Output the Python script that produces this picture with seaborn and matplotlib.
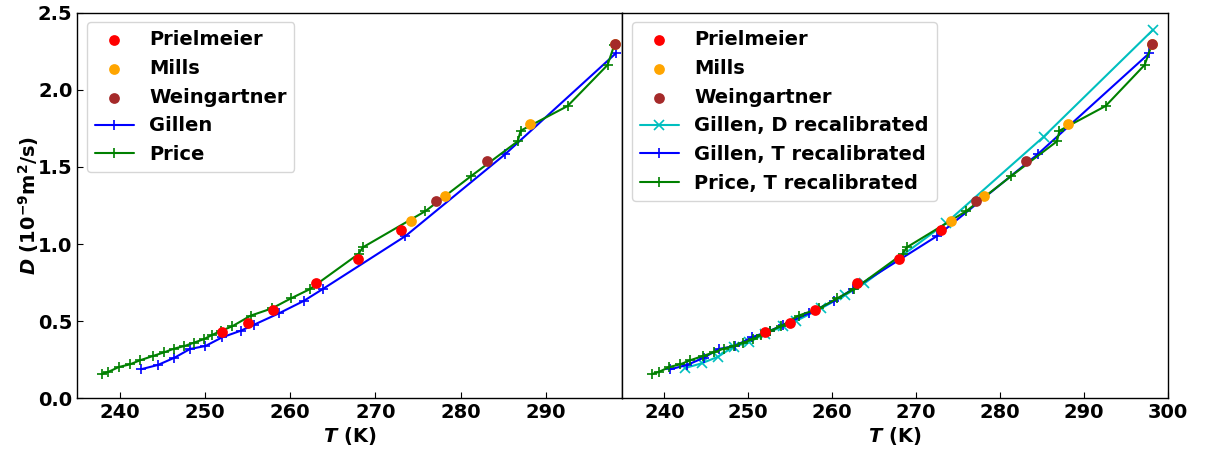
import matplotlib
matplotlib.use("Agg")
import matplotlib.pyplot as plt
import seaborn as sns

# ---------------- data ----------------
priel_T = [252.0, 255.0, 258.0, 263.0, 268.0, 273.0]
priel_D = [0.43, 0.49, 0.57, 0.745, 0.90, 1.09]

mills_T = [274.15, 278.15, 288.15, 298.15]
mills_D = [1.149, 1.313, 1.776, 2.299]

wein_T = [277.15, 283.15, 298.15]
wein_D = [1.28, 1.54, 2.30]

gillen_T = [242.47, 244.46, 246.41, 248.25, 250.05, 252.0, 254.19, 255.75,
            258.68, 261.58, 263.84, 273.53, 285.22, 298.23]
gillen_D = [0.188, 0.216, 0.263, 0.320, 0.339, 0.395, 0.438, 0.477,
            0.551, 0.631, 0.709, 1.052, 1.582, 2.237]

price_T = [237.86, 238.64, 239.89, 241.18, 242.35, 243.87, 245.2, 246.37,
           247.59, 248.72, 249.89, 250.87, 251.93, 253.2, 255.36, 257.86,
           260.09, 262.28, 268.02, 268.53, 275.88, 281.24, 286.7, 287.05,
           292.56, 297.25, 298.04]
price_D = [0.158, 0.171, 0.203, 0.220, 0.246, 0.274, 0.298, 0.322,
           0.339, 0.361, 0.384, 0.412, 0.438, 0.467, 0.536, 0.583,
           0.648, 0.707, 0.936, 0.979, 1.214, 1.441, 1.666, 1.735,
           1.895, 2.161, 2.29]

gillenD_T = gillen_T
gillenD_D = [0.196, 0.227, 0.270, 0.335, 0.362, 0.420, 0.466, 0.503,
             0.583, 0.670, 0.745, 1.134, 1.696, 2.388]

gillenT_T = [240.7, 242.7, 244.7, 246.5, 248.4, 250.4, 252.6, 254.2,
             257.2, 260.2, 262.5, 272.5, 284.5, 297.8]
gillenT_D = gillen_D

priceT_T = [238.56, 239.34, 240.59, 241.88, 243.05, 244.57, 245.9, 247.07,
            248.29, 249.42, 250.59, 251.57, 252.63, 253.9, 256.0, 258.46,
            260.6, 262.6, 268.4, 268.9, 276.0, 281.35, 286.8, 287.1,
            292.6, 297.25, 298.1]
priceT_D = price_D

xticks = [240, 250, 260, 270, 280, 290, 300]
yticks = [0.0, 0.5, 1.0, 1.5, 2.0, 2.5]

# ---------------- style ----------------
sns.set_style("ticks")
plt.rcParams["font.family"] = ["DejaVu Sans"]
plt.rcParams["font.weight"] = "bold"
plt.rcParams["axes.labelweight"] = "bold"
plt.rcParams["mathtext.default"] = "bf"
plt.rcParams["text.color"] = "black"
plt.rcParams["axes.labelcolor"] = "black"
plt.rcParams["axes.edgecolor"] = "black"
plt.rcParams["xtick.color"] = "black"
plt.rcParams["ytick.color"] = "black"
plt.rcParams["xtick.direction"] = "in"
plt.rcParams["ytick.direction"] = "in"
plt.rcParams["axes.linewidth"] = 1.0

FS_TICK = 14
FS_LEG = 14

fig, (ax1, ax2) = plt.subplots(1, 2, figsize=(12.07, 4.54), dpi=100, sharey=True)
fig.subplots_adjust(left=0.064, right=0.9674, top=0.972, bottom=0.1227, wspace=0)

S = 60


def scatter_sets(ax):
    sns.scatterplot(x=priel_T, y=priel_D, color="red", s=S, linewidth=0,
                    label="Prielmeier", ax=ax, zorder=3)
    sns.scatterplot(x=mills_T, y=mills_D, color="orange", s=S, linewidth=0,
                    label="Mills", ax=ax, zorder=3)
    sns.scatterplot(x=wein_T, y=wein_D, color="brown", s=S, linewidth=0,
                    label="Weingartner", ax=ax, zorder=3)


def line(ax, T, D, color, marker, label, ms=7):
    sns.lineplot(x=T, y=D, color=color, marker=marker, markersize=ms,
                 markeredgecolor=color, markeredgewidth=1.2, linewidth=1.5,
                 sort=False, estimator=None, label=label, ax=ax, zorder=2)


# left panel
scatter_sets(ax1)
line(ax1, gillen_T, gillen_D, "blue", "+", "Gillen")
line(ax1, price_T, price_D, "green", "+", "Price")

# right panel
scatter_sets(ax2)
line(ax2, gillenD_T, gillenD_D, "c", "x", "Gillen, D recalibrated", ms=7)
line(ax2, gillenT_T, gillenT_D, "blue", "+", "Gillen, T recalibrated")
line(ax2, priceT_T, priceT_D, "green", "+", "Price, T recalibrated")

ax1.set_xlim(235, 299)
ax2.set_xlim(235, 300)
ax1.set_ylim(0, 2.5)
ax1.set_yticks(yticks)
ax1.set_xticks(xticks[:-1])
ax2.set_xticks(xticks)

for ax in (ax1, ax2):
    for sp in ax.spines.values():
        sp.set_visible(True)
        sp.set_color("black")
    ax.tick_params(labelsize=FS_TICK, length=4, width=0.8)
    for lab in ax.get_xticklabels() + ax.get_yticklabels():
        lab.set_fontweight("bold")
    ax.set_xlabel(r"$\mathbfit{T}$ (K)", fontsize=FS_TICK, fontweight="bold", labelpad=2)
    leg = ax.legend(loc="upper left", prop={"weight": "bold", "size": FS_LEG})
    for t in leg.get_texts():
        t.set_color("black")

ax2.tick_params(axis="y", left=False, labelleft=False)
ax1.set_ylabel(r"$\mathbfit{D}$ (10$^{-9}$m$^{2}$/s)", fontsize=FS_TICK,
               fontweight="bold", labelpad=-2)

fig.savefig("out.png", dpi=100)
